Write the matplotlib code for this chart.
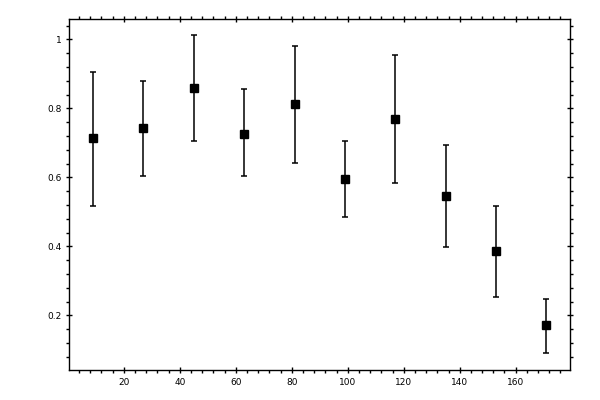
import matplotlib
matplotlib.use("Agg")
import matplotlib.pyplot as plt
from matplotlib.ticker import MultipleLocator

x = [9, 27, 45, 63, 81, 99, 117, 135, 153, 171]
y = [0.713, 0.742, 0.858, 0.727, 0.812, 0.594, 0.768, 0.545, 0.386, 0.171]
y_hi = [0.907, 0.879, 1.012, 0.855, 0.980, 0.706, 0.954, 0.694, 0.516, 0.248]
y_lo = [0.517, 0.603, 0.707, 0.603, 0.643, 0.485, 0.583, 0.397, 0.252, 0.090]

err_lo = [v - l for v, l in zip(y, y_lo)]
err_hi = [h - v for v, h in zip(y, y_hi)]

fig = plt.figure(figsize=(6, 4), dpi=100)
ax = fig.add_axes([0.1158, 0.075, 0.8342, 0.8767])
ax.errorbar(x, y, yerr=[err_lo, err_hi], fmt='s', color='black',
            markersize=5.2, elinewidth=1.1, capsize=2.2, capthick=1.1)

ax.set_xlim(0.6, 179.4)
ax.set_ylim(0.0415, 1.0585)
ax.xaxis.set_major_locator(MultipleLocator(20))
ax.xaxis.set_minor_locator(MultipleLocator(4))
ax.yaxis.set_major_locator(MultipleLocator(0.2))
ax.yaxis.set_minor_locator(MultipleLocator(0.04))
ax.set_xticks([20, 40, 60, 80, 100, 120, 140, 160])
ax.set_xticklabels(['20', '40', '60', '80', '100', '120', '140', '160'])
ax.set_yticks([0.2, 0.4, 0.6, 0.8, 1.0])
ax.set_yticklabels(['0.2', '0.4', '0.6', '0.8', '1'])

ax.tick_params(which='major', direction='inout', length=5, width=1,
               top=True, right=True, labelsize=6.5, pad=3)
ax.tick_params(which='minor', direction='out', length=2.2, width=1,
               top=True, right=True)
for s in ax.spines.values():
    s.set_linewidth(1)

fig.savefig('out.png', dpi=100)
